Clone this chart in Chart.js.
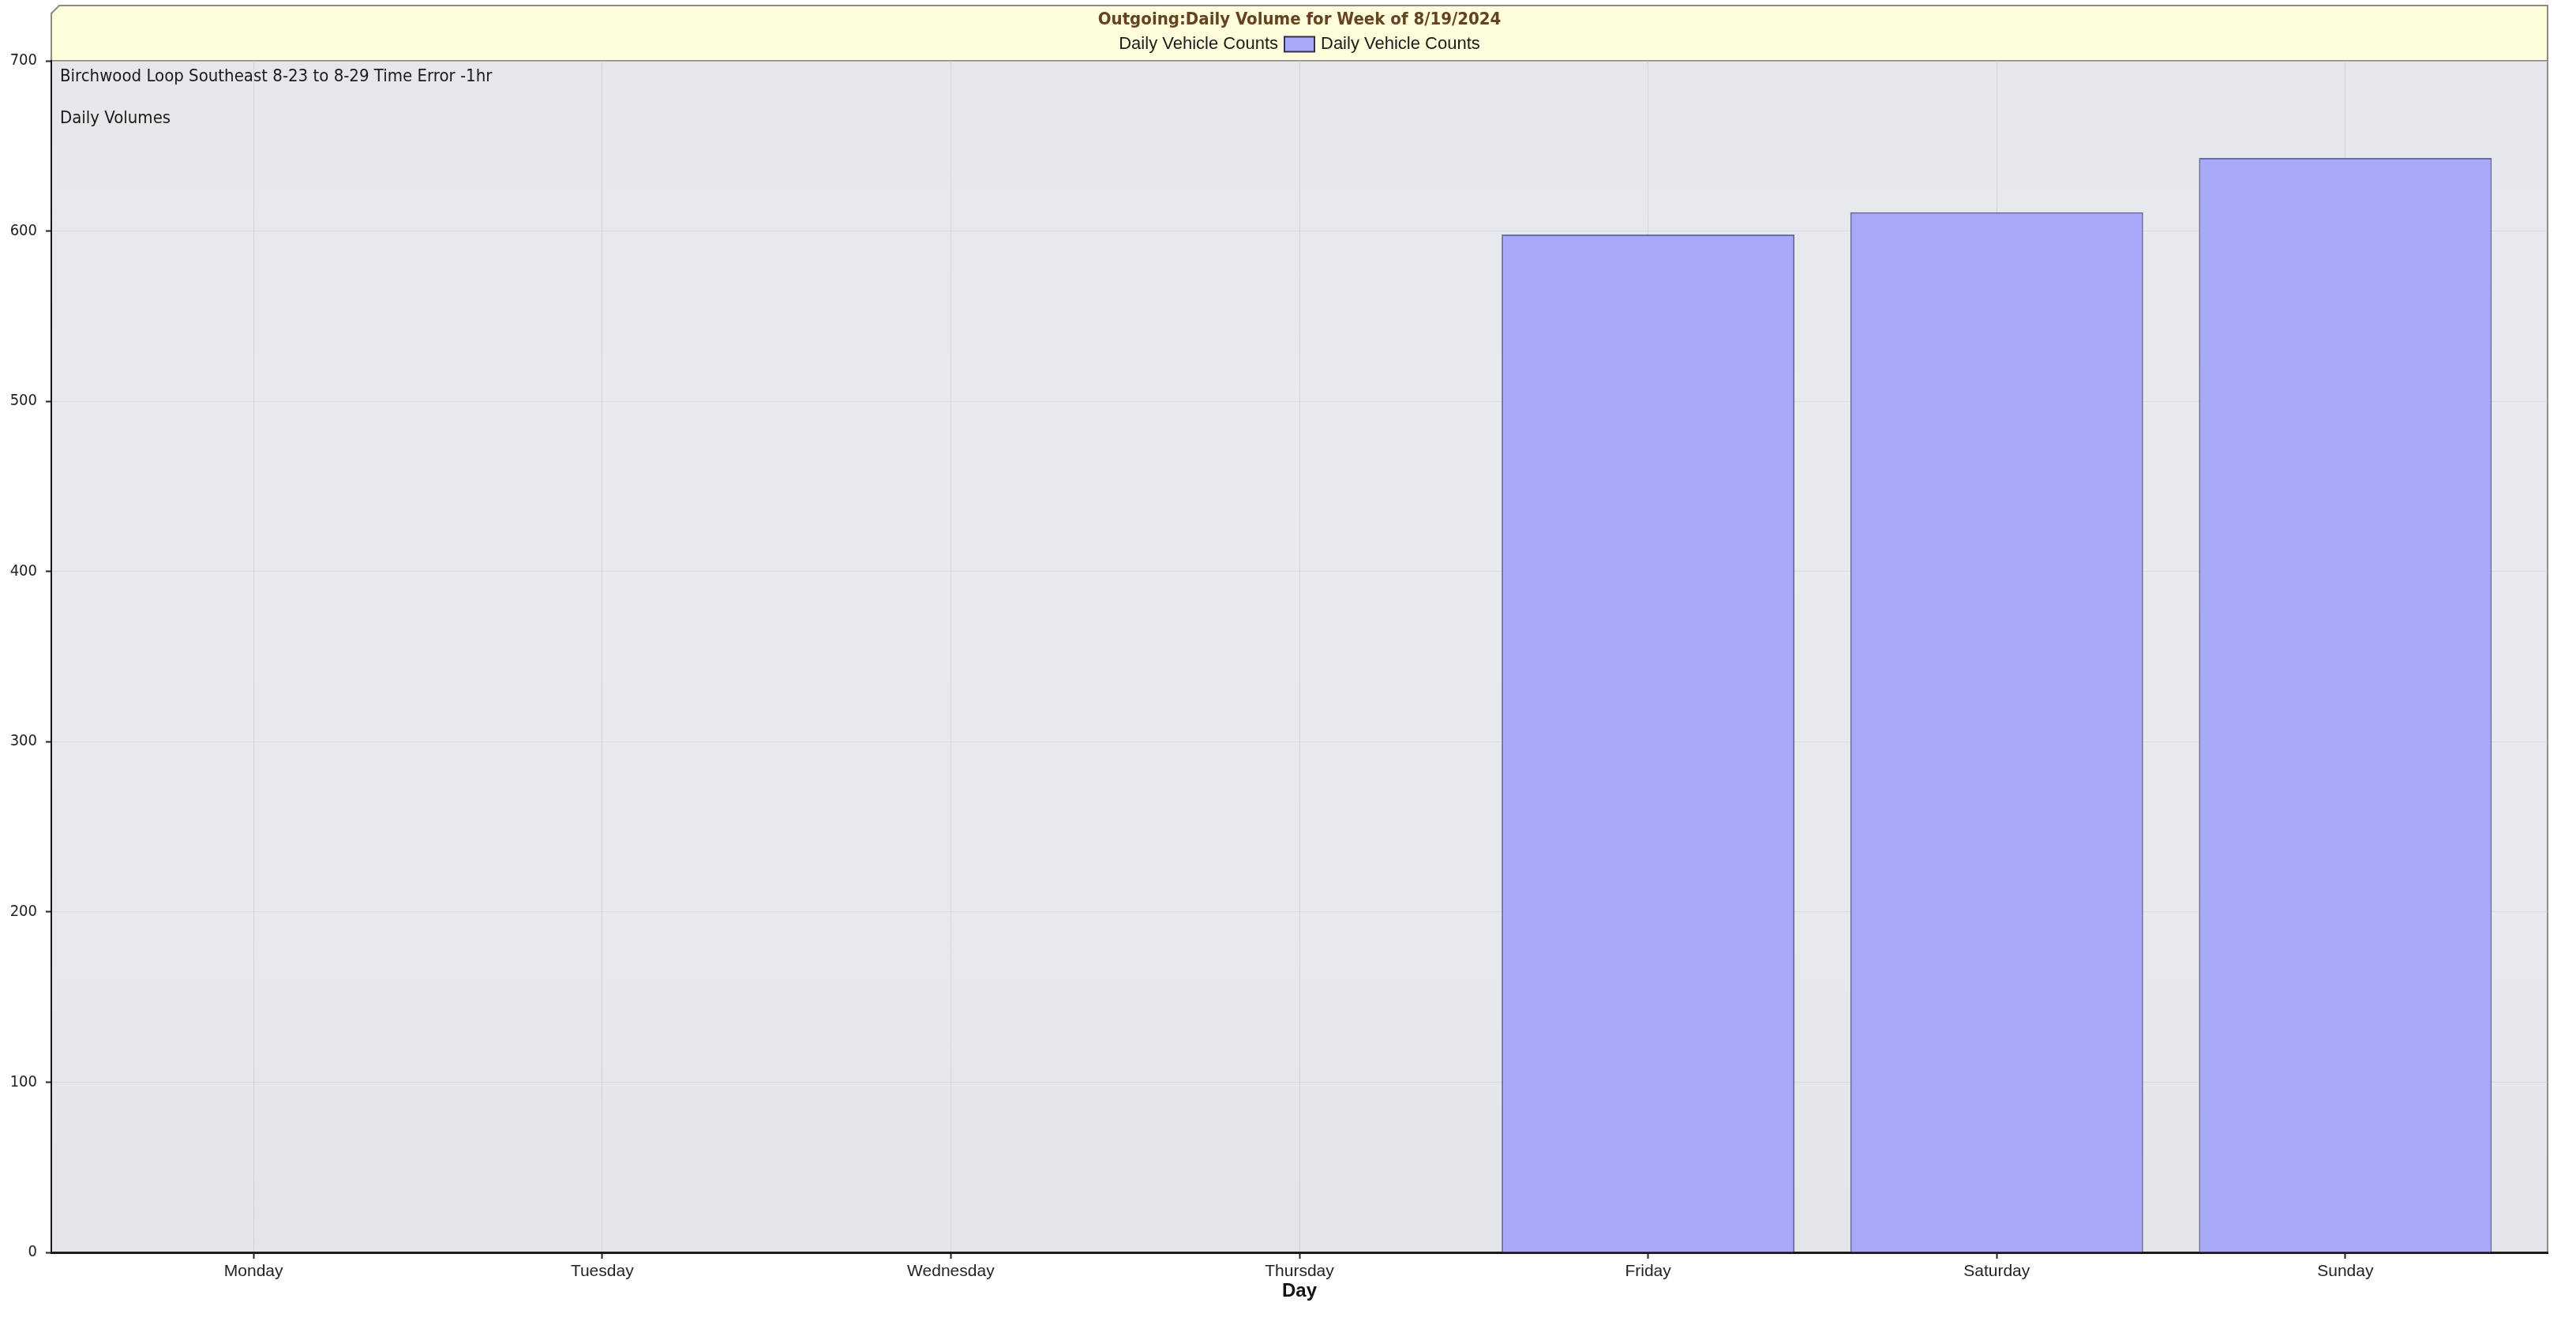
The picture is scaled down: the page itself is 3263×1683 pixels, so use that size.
<!DOCTYPE html>
<html>
<head>
<meta charset="utf-8">
<title>Outgoing Daily Volume</title>
<script src="https://cdn.jsdelivr.net/npm/chart.js@4.4.1/dist/chart.umd.min.js"></script>
<style>
  html, body { margin: 0; padding: 0; background: #ffffff; }
  #wrap { width: 3263px; height: 1683px; }
</style>
</head>
<body>
<div id="wrap"><canvas id="volumeChart" width="3263" height="1683"></canvas></div>
<script>
// Week of 8/19/2024 - counter only has data from Friday on
const days = ["Monday", "Tuesday", "Wednesday", "Thursday", "Friday", "Saturday", "Sunday"];
const dailyCounts = [null, null, null, null, 598, 611, 643];
const yTicks = [0, 100, 200, 300, 400, 500, 600, 700];

const chartTitle = "Outgoing:Daily Volume for Week of 8/19/2024";
const legendTitle = "Daily Vehicle Counts";
const seriesLabel = "Daily Vehicle Counts";
const notes = ["Birchwood Loop Southeast 8-23 to 8-29 Time Error -1hr", "Daily Volumes"];

const barFill = "#a9a9fa";
const barEdge = "#6b6ba6";

// Draws plot background, the yellow header box (title + legend) and the notes
const plotFrame = {
  id: "plotFrame",
  beforeDraw(chart) {
    const { ctx, chartArea: a } = chart;
    ctx.save();

    // plot background
    const g = ctx.createLinearGradient(0, a.top, 0, a.bottom);
    g.addColorStop(0, "#e6e7ea");
    g.addColorStop(0.3, "#e9eaed");
    g.addColorStop(0.7, "#e8e9ec");
    g.addColorStop(1, "#e4e5e8");
    ctx.fillStyle = g;
    ctx.fillRect(a.left, a.top, a.right - a.left, a.bottom - a.top);

    // right frame line
    ctx.strokeStyle = "#8f8f8f";
    ctx.lineWidth = 2;
    ctx.beginPath();
    ctx.moveTo(a.right, a.top);
    ctx.lineTo(a.right, a.bottom);
    ctx.stroke();

    // header box, top-left corner clipped
    const top = 7, cut = 10;
    ctx.beginPath();
    ctx.moveTo(a.left, a.top);
    ctx.lineTo(a.left, top + cut);
    ctx.lineTo(a.left + cut, top);
    ctx.lineTo(a.right, top);
    ctx.lineTo(a.right, a.top);
    ctx.closePath();
    ctx.fillStyle = "#fefedc";
    ctx.fill();
    ctx.lineWidth = 2;
    ctx.strokeStyle = "#8c8c84";
    ctx.stroke();

    const cx = (a.left + a.right) / 2;
    ctx.textBaseline = "middle";
    ctx.textAlign = "center";
    ctx.fillStyle = "#634321";
    ctx.font = "bold 22px 'DejaVu Sans Condensed', 'DejaVu Sans'";
    ctx.fillText(chartTitle, cx, 25);

    // legend row: caption, swatch, series name
    ctx.font = "22px 'Liberation Sans'";
    const gap = 8, swW = 38, swH = 19;
    const w1 = ctx.measureText(legendTitle).width;
    const w2 = ctx.measureText(seriesLabel).width;
    let x = cx - (w1 + gap + swW + gap + w2) / 2;
    const ly = 56;
    ctx.textAlign = "left";
    ctx.fillStyle = "#1a1a1a";
    ctx.fillText(legendTitle, x, ly);
    x += w1 + gap;
    ctx.fillStyle = barFill;
    ctx.fillRect(x, ly - swH / 2, swW, swH);
    ctx.strokeStyle = "#33334d";
    ctx.lineWidth = 2;
    ctx.strokeRect(x, ly - swH / 2, swW, swH);
    x += swW + gap;
    ctx.fillStyle = "#1a1a1a";
    ctx.fillText(seriesLabel, x, ly);
    ctx.restore();
  },
  afterDraw(chart) {
    const { ctx, chartArea: a } = chart;
    ctx.save();
    ctx.font = "22px 'DejaVu Sans Condensed', 'DejaVu Sans'";
    ctx.fillStyle = "#1a1a1a";
    ctx.textAlign = "left";
    ctx.textBaseline = "middle";
    ctx.fillText(notes[0], a.left + 11, a.top + 20);
    ctx.fillText(notes[1], a.left + 11, a.top + 73);
    ctx.restore();
  }
};

new Chart(document.getElementById("volumeChart").getContext("2d"), {
  type: "bar",
  data: {
    datasets: [
      {
        label: seriesLabel,
        data: days.map((d, i) => ({ x: i, y: dailyCounts[i] })),
        backgroundColor: barFill,
        borderColor: barEdge,
        borderWidth: 2,
        categoryPercentage: 0.84,
        barPercentage: 1,
      },
    ],
  },
  options: {
    responsive: false,
    animation: false,
    layout: { padding: { top: 77, right: 36, left: 0, bottom: 0 } },
    plugins: {
      legend: { display: false },
      title: { display: false },
      tooltip: { enabled: false },
    },
    scales: {
      x: {
        type: "linear",
        min: -0.58,
        max: 6.58,
        offset: false,
        afterBuildTicks: (s) => { s.ticks = days.map((d, i) => ({ value: i })); },
        afterFit: (s) => { s.height = 97; },
        grid: {
          offset: false,
          color: "rgba(200,200,204,0.6)",
          lineWidth: 1,
          tickLength: 8,
          tickColor: "#222222",
          tickWidth: 2,
        },
        border: { color: "#1a1a1a", width: 3 },
        ticks: {
          padding: 4,
          color: "#222222",
          maxRotation: 0,
          autoSkip: false,
          font: { family: "'Liberation Sans'", size: 21 },
          callback: (v) => days[v],
        },
        title: {
          display: true,
          text: "Day",
          color: "#111111",
          font: { family: "'Liberation Sans'", size: 24, weight: "bold" },
          padding: { top: 0, bottom: 33 },
        },
      },
      y: {
        min: 0,
        max: 700,
        afterBuildTicks: (s) => { s.ticks = yTicks.map((v) => ({ value: v })); },
        afterFit: (s) => { s.width = 65; },
        grid: {
          color: "rgba(208,208,211,0.5)",
          tickLength: 7,
          tickColor: "#222222",
          tickWidth: 2,
        },
        border: { color: "#1a1a1a", width: 2 },
        ticks: {
          padding: 11,
          color: "#222222",
          font: { family: "'DejaVu Sans Condensed', 'DejaVu Sans'", size: 20 },
        },
      },
    },
  },
  plugins: [plotFrame],
});
</script>
</body>
</html>
